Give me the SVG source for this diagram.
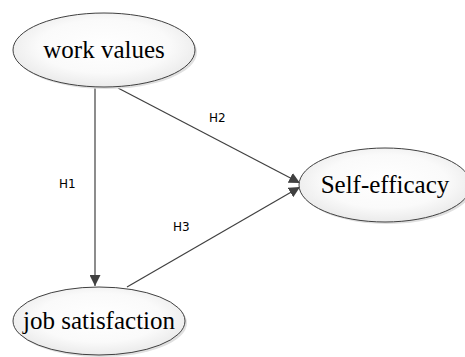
<svg xmlns="http://www.w3.org/2000/svg" width="465" height="357" viewBox="0 0 465 357">
<style>
.node ellipse.body{fill:url(#g);stroke:#404040;stroke-width:1}
.node ellipse.sh{fill:#e0e0e0;stroke:none}
.node text{font-family:"Liberation Serif","Times New Roman",serif;font-size:25px;fill:#000;text-anchor:middle}
.edge line{stroke:#404040;stroke-width:1.2}
.lbl{font-family:"DejaVu Sans",sans-serif;font-size:12px;fill:#000}
</style>
<defs>
<radialGradient id="g" cx="0.5" cy="0.45" r="0.6">
<stop offset="0" stop-color="#ffffff"/>
<stop offset="0.6" stop-color="#fafafa"/>
<stop offset="1" stop-color="#e6e6e6"/>
</radialGradient>
<marker id="ah" viewBox="0 0 10 10" refX="10" refY="5" markerWidth="11" markerHeight="11" markerUnits="userSpaceOnUse" orient="auto">
<path d="M0,0 L10,5 L0,10 z" fill="#404040"/>
</marker>
</defs>
<rect width="465" height="357" fill="#fff"/>
<g id="edges" class="edge">
<line x1="95" y1="88" x2="95" y2="286" marker-end="url(#ah)"/>
<line x1="118" y1="88" x2="300" y2="183" marker-end="url(#ah)"/>
<line x1="127" y1="287" x2="300" y2="187" marker-end="url(#ah)"/>
</g>
<text class="lbl" x="59" y="188">H1</text>
<text class="lbl" x="209" y="122">H2</text>
<text class="lbl" x="173" y="231">H3</text>
<g id="work_values" class="node">
<ellipse class="sh" cx="106" cy="52" rx="91" ry="37"/>
<ellipse class="body" cx="104" cy="50" rx="91" ry="37"/>
<text x="104" y="58">work values</text>
</g>
<g id="self_efficacy" class="node">
<ellipse class="sh" cx="387" cy="187" rx="86" ry="37"/>
<ellipse class="body" cx="385" cy="185" rx="86" ry="37"/>
<text x="385" y="193">Self-efficacy</text>
</g>
<g id="job_satisfaction" class="node">
<ellipse class="sh" cx="101" cy="323" rx="86" ry="34"/>
<ellipse class="body" cx="99" cy="321" rx="86" ry="34"/>
<text x="99" y="329">job satisfaction</text>
</g>
</svg>
